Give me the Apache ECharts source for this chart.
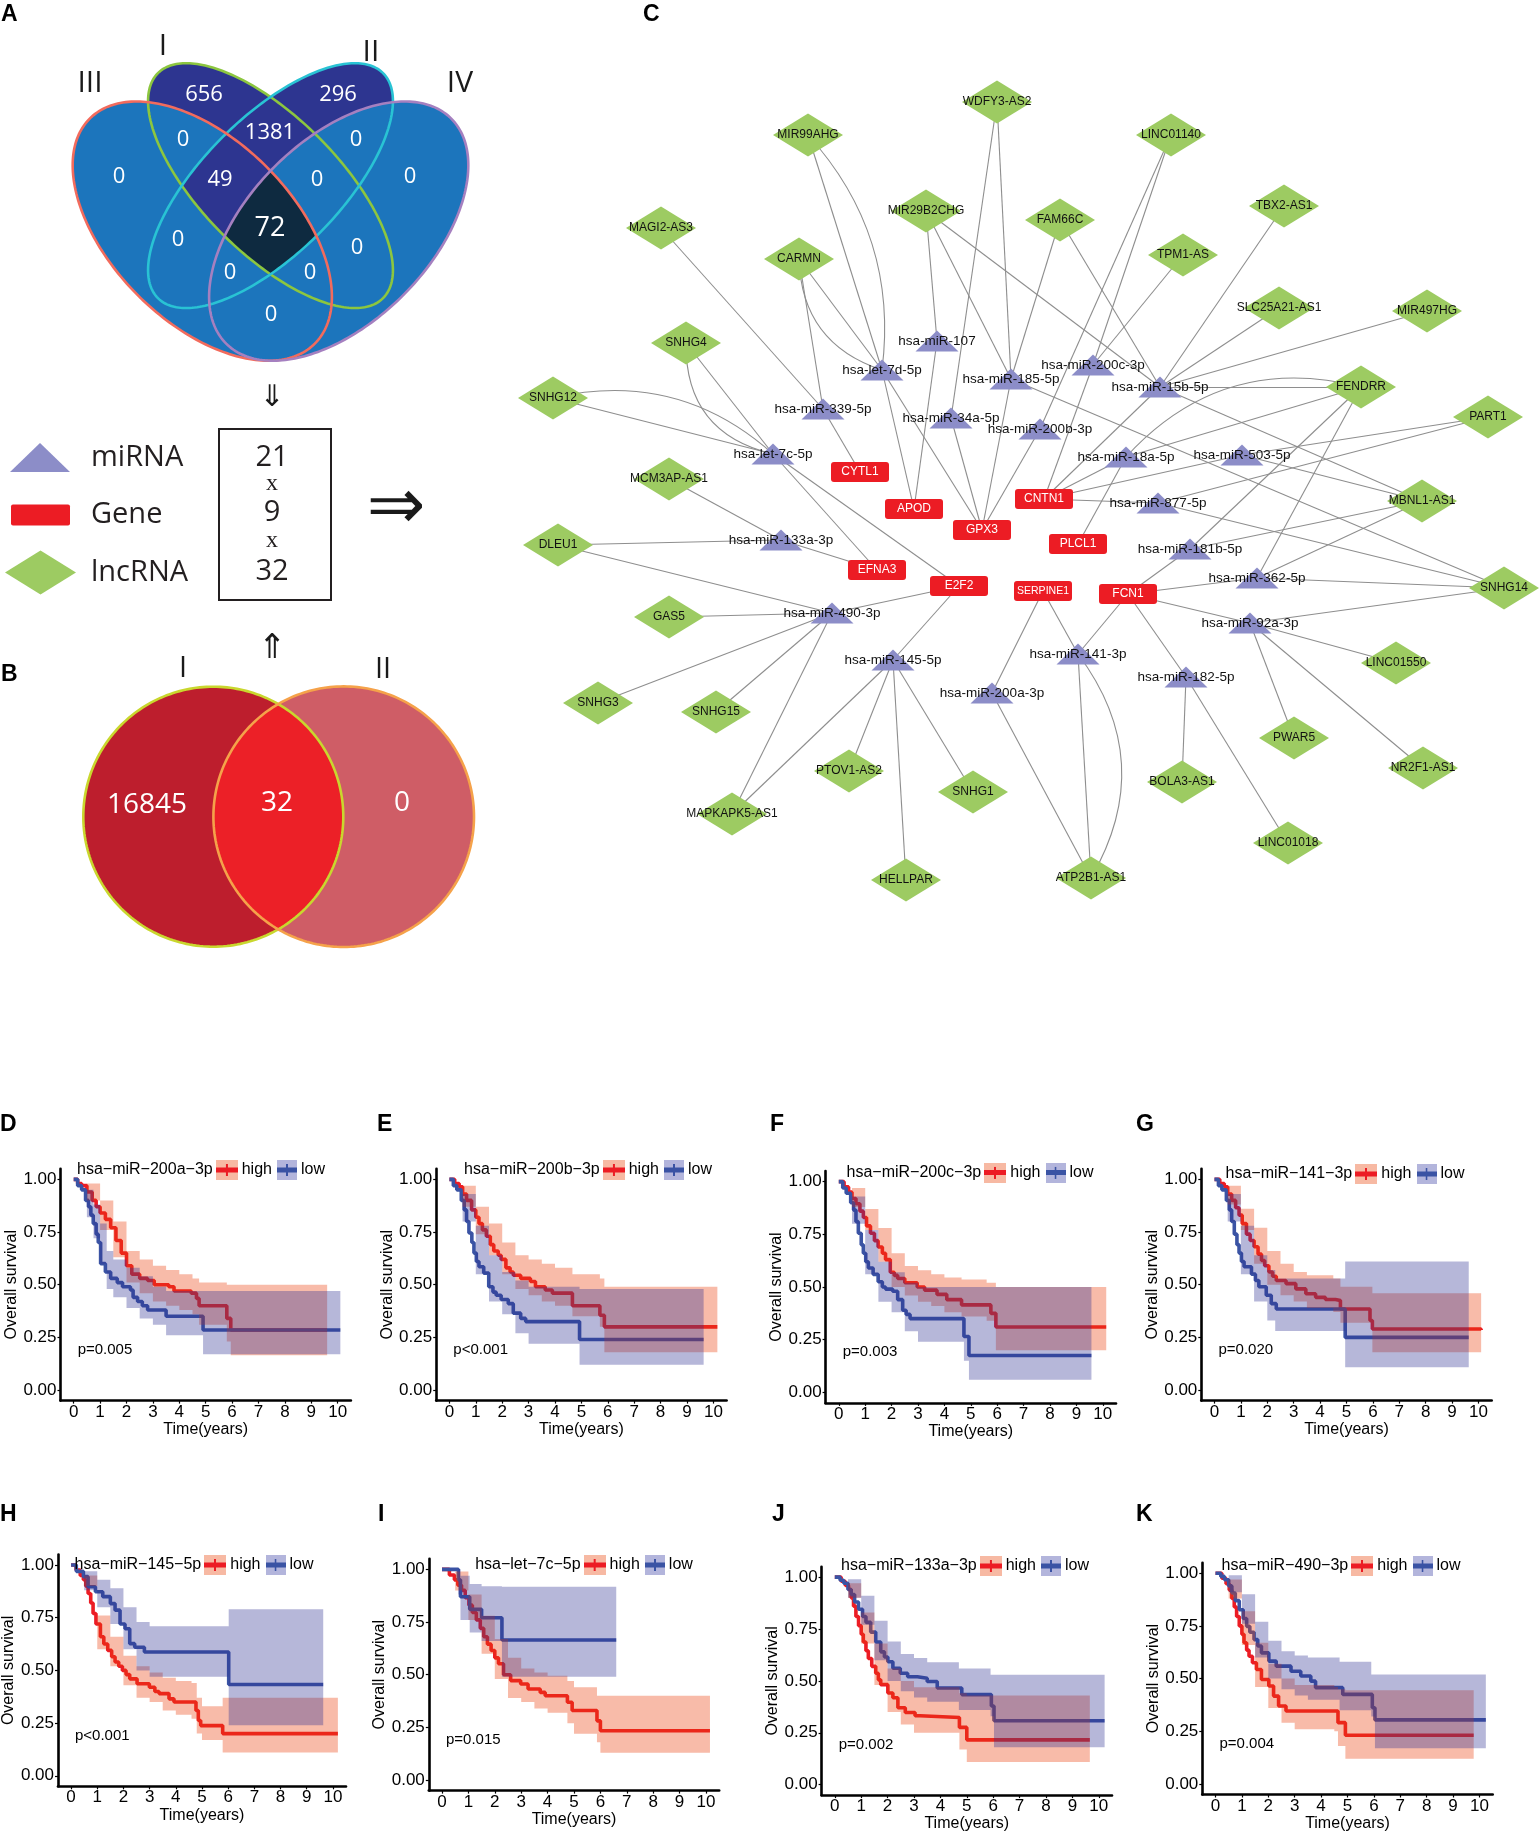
<!DOCTYPE html>
<html>
<head>
<meta charset="utf-8">
<title>ceRNA network and survival figure</title>
<script src="https://cdn.jsdelivr.net/npm/echarts/dist/echarts.min.js"></script>
<style>
html,body{margin:0;padding:0;background:#ffffff;}
#chart{width:1540px;height:1833px;}
</style>
</head>
<body>
<div id="chart"></div>
<script>
// ======================= DATA =======================
const vennASetLabels = ['I', 'II', 'III', 'IV'];
const vennARegions = ['I', 'II', 'I∩II', 'III', 'IV', 'I∩III', 'II∩IV', 'I∩II∩III', 'I∩II∩IV', 'I∩II∩III∩IV', 'II∩III', 'I∩IV', 'II∩III∩IV', 'I∩III∩IV', 'III∩IV'];
const vennACounts = [656, 296, 1381, 0, 0, 0, 0, 49, 0, 72, 0, 0, 0, 0, 0];
const vennBSetLabels = ['I', 'II'];
const vennBRegions = ['I', 'I∩II', 'II'];
const vennBCounts = [16845, 32, 0];
const candidateCounts = [21, 9, 32];
const nodeTypes = ['miRNA', 'Gene', 'lncRNA'];
const miRNAs = ['hsa-let-7d-5p', 'hsa-miR-107', 'hsa-miR-185-5p', 'hsa-miR-200c-3p', 'hsa-miR-15b-5p', 'hsa-miR-339-5p', 'hsa-miR-34a-5p', 'hsa-miR-200b-3p', 'hsa-let-7c-5p', 'hsa-miR-18a-5p', 'hsa-miR-503-5p', 'hsa-miR-877-5p', 'hsa-miR-133a-3p', 'hsa-miR-181b-5p', 'hsa-miR-362-5p', 'hsa-miR-490-3p', 'hsa-miR-92a-3p', 'hsa-miR-145-5p', 'hsa-miR-141-3p', 'hsa-miR-200a-3p', 'hsa-miR-182-5p'];
const genes = ['CYTL1', 'APOD', 'GPX3', 'CNTN1', 'PLCL1', 'EFNA3', 'E2F2', 'SERPINE1', 'FCN1'];
const lncRNAs = ['WDFY3-AS2', 'MIR99AHG', 'LINC01140', 'MIR29B2CHG', 'FAM66C', 'TBX2-AS1', 'MAGI2-AS3', 'CARMN', 'TPM1-AS', 'SLC25A21-AS1', 'MIR497HG', 'SNHG4', 'FENDRR', 'SNHG12', 'PART1', 'MCM3AP-AS1', 'MBNL1-AS1', 'DLEU1', 'SNHG14', 'GAS5', 'LINC01550', 'SNHG3', 'SNHG15', 'PWAR5', 'NR2F1-AS1', 'PTOV1-AS2', 'SNHG1', 'BOLA3-AS1', 'MAPKAPK5-AS1', 'LINC01018', 'HELLPAR', 'ATP2B1-AS1'];
const interactions = [
  ['WDFY3-AS2', 'hsa-miR-34a-5p'], ['WDFY3-AS2', 'hsa-miR-185-5p'],
  ['MIR99AHG', 'hsa-let-7d-5p'], ['MIR99AHG', 'hsa-let-7d-5p'],
  ['CARMN', 'hsa-let-7d-5p'], ['CARMN', 'hsa-let-7d-5p'], ['CARMN', 'hsa-miR-339-5p'],
  ['MAGI2-AS3', 'hsa-miR-339-5p'],
  ['MIR29B2CHG', 'hsa-miR-107'], ['MIR29B2CHG', 'hsa-miR-185-5p'], ['MIR29B2CHG', 'hsa-miR-15b-5p'],
  ['SNHG4', 'hsa-let-7c-5p'], ['SNHG4', 'hsa-let-7c-5p'],
  ['SNHG12', 'hsa-let-7c-5p'], ['SNHG12', 'hsa-let-7c-5p'],
  ['FAM66C', 'hsa-miR-185-5p'], ['FAM66C', 'hsa-miR-15b-5p'],
  ['LINC01140', 'hsa-miR-200c-3p'], ['LINC01140', 'hsa-miR-200b-3p'],
  ['TPM1-AS', 'hsa-miR-200c-3p'],
  ['TBX2-AS1', 'hsa-miR-15b-5p'], ['SLC25A21-AS1', 'hsa-miR-15b-5p'], ['MIR497HG', 'hsa-miR-15b-5p'],
  ['FENDRR', 'hsa-miR-15b-5p'], ['FENDRR', 'hsa-miR-18a-5p'], ['FENDRR', 'hsa-miR-18a-5p'],
  ['FENDRR', 'hsa-miR-181b-5p'], ['FENDRR', 'hsa-miR-362-5p'],
  ['PART1', 'hsa-miR-503-5p'], ['PART1', 'hsa-miR-877-5p'],
  ['MBNL1-AS1', 'hsa-miR-15b-5p'], ['MBNL1-AS1', 'hsa-miR-503-5p'], ['MBNL1-AS1', 'hsa-miR-181b-5p'], ['MBNL1-AS1', 'hsa-miR-362-5p'],
  ['SNHG14', 'hsa-miR-185-5p'], ['SNHG14', 'hsa-miR-877-5p'], ['SNHG14', 'hsa-miR-362-5p'], ['SNHG14', 'hsa-miR-92a-3p'],
  ['MCM3AP-AS1', 'hsa-miR-133a-3p'], ['DLEU1', 'hsa-miR-133a-3p'], ['DLEU1', 'hsa-miR-490-3p'],
  ['GAS5', 'hsa-miR-490-3p'], ['SNHG3', 'hsa-miR-490-3p'], ['SNHG15', 'hsa-miR-490-3p'],
  ['MAPKAPK5-AS1', 'hsa-miR-490-3p'], ['MAPKAPK5-AS1', 'hsa-miR-145-5p'],
  ['PTOV1-AS2', 'hsa-miR-145-5p'], ['HELLPAR', 'hsa-miR-145-5p'], ['SNHG1', 'hsa-miR-145-5p'],
  ['LINC01550', 'hsa-miR-92a-3p'], ['PWAR5', 'hsa-miR-92a-3p'], ['NR2F1-AS1', 'hsa-miR-92a-3p'],
  ['BOLA3-AS1', 'hsa-miR-182-5p'], ['LINC01018', 'hsa-miR-182-5p'],
  ['ATP2B1-AS1', 'hsa-miR-141-3p'], ['ATP2B1-AS1', 'hsa-miR-141-3p'], ['ATP2B1-AS1', 'hsa-miR-200a-3p'],
  ['hsa-miR-339-5p', 'CYTL1'], ['hsa-let-7d-5p', 'APOD'], ['hsa-miR-107', 'APOD'],
  ['hsa-let-7d-5p', 'GPX3'], ['hsa-miR-34a-5p', 'GPX3'], ['hsa-miR-185-5p', 'GPX3'], ['hsa-miR-200b-3p', 'GPX3'],
  ['hsa-miR-200c-3p', 'CNTN1'], ['hsa-miR-15b-5p', 'CNTN1'], ['hsa-miR-18a-5p', 'CNTN1'], ['hsa-miR-877-5p', 'CNTN1'], ['hsa-miR-503-5p', 'CNTN1'],
  ['hsa-miR-18a-5p', 'PLCL1'],
  ['hsa-let-7c-5p', 'EFNA3'], ['hsa-miR-133a-3p', 'EFNA3'],
  ['hsa-let-7c-5p', 'E2F2'], ['hsa-miR-490-3p', 'E2F2'], ['hsa-miR-145-5p', 'E2F2'],
  ['hsa-miR-141-3p', 'SERPINE1'], ['hsa-miR-200a-3p', 'SERPINE1'],
  ['hsa-miR-181b-5p', 'FCN1'], ['hsa-miR-362-5p', 'FCN1'], ['hsa-miR-92a-3p', 'FCN1'], ['hsa-miR-141-3p', 'FCN1'], ['hsa-miR-182-5p', 'FCN1']
];
const kmPanelLetters = ['D', 'E', 'F', 'G', 'H', 'I', 'J', 'K'];
const kmMiRNAs = ['hsa\u2212miR\u2212200a\u22123p', 'hsa\u2212miR\u2212200b\u22123p', 'hsa\u2212miR\u2212200c\u22123p', 'hsa\u2212miR\u2212141\u22123p', 'hsa\u2212miR\u2212145\u22125p', 'hsa\u2212let\u22127c\u22125p', 'hsa\u2212miR\u2212133a\u22123p', 'hsa\u2212miR\u2212490\u22123p'];
const kmGroups = ['high', 'low'];
const kmPValues = ['p=0.005', 'p<0.001', 'p=0.003', 'p=0.020', 'p<0.001', 'p=0.015', 'p=0.002', 'p=0.004'];
const timeTicks = [0, 1, 2, 3, 4, 5, 6, 7, 8, 9, 10];
const survTicks = [0, 0.25, 0.5, 0.75, 1];

const D_high = [[0,1],[0.15,0.98],[0.3,0.97],[0.5,0.94],[0.7,0.9],[0.85,0.87],[1.0,0.84],[1.2,0.81],[1.4,0.77],[1.6,0.71],[1.8,0.65],[2.0,0.59],[2.2,0.55],[2.5,0.53],[2.8,0.52],[3.05,0.5],[3.6,0.49],[3.8,0.47],[4.45,0.46],[4.65,0.435],[4.75,0.4],[5.7,0.4],[5.8,0.34],[5.95,0.285],[9.6,0.285]];
const D_low = [[0,1],[0.15,0.97],[0.3,0.95],[0.45,0.9],[0.56,0.87],[0.65,0.83],[0.74,0.79],[0.85,0.74],[0.93,0.7],[1.02,0.6],[1.2,0.56],[1.4,0.53],[1.65,0.51],[1.85,0.49],[2.15,0.475],[2.25,0.44],[2.42,0.42],[2.6,0.4],[2.8,0.38],[3.5,0.35],[4.9,0.285],[10.1,0.285]];
const D_highCI = [[0,1,1],[0.5,0.9,0.98],[1.0,0.76,0.9],[1.5,0.63,0.8],[2.0,0.51,0.66],[2.5,0.46,0.62],[3.0,0.42,0.59],[3.5,0.4,0.57],[4.0,0.38,0.55],[4.5,0.36,0.53],[4.75,0.31,0.51],[5.8,0.23,0.5],[5.95,0.165,0.5],[9.6,0.165,0.5]];
const D_lowCI = [[0,1,1],[0.5,0.82,0.95],[0.75,0.72,0.88],[1.0,0.6,0.79],[1.25,0.48,0.66],[1.5,0.44,0.62],[2.0,0.39,0.58],[2.5,0.34,0.54],[3.0,0.31,0.49],[3.5,0.26,0.47],[4.9,0.17,0.47],[10.1,0.17,0.47]];

const E_high = [[0,1],[0.2,0.98],[0.37,0.965],[0.5,0.93],[0.65,0.9],[0.84,0.855],[1.0,0.82],[1.12,0.79],[1.25,0.76],[1.4,0.73],[1.55,0.69],[1.68,0.66],[1.85,0.64],[1.96,0.62],[2.14,0.58],[2.3,0.56],[2.42,0.545],[2.7,0.53],[3.07,0.515],[3.26,0.49],[3.63,0.475],[3.9,0.46],[4.66,0.4],[5.7,0.355],[5.87,0.3],[10.15,0.3]];
const E_low = [[0,1],[0.15,0.97],[0.28,0.95],[0.45,0.9],[0.56,0.855],[0.65,0.8],[0.74,0.745],[0.85,0.7],[0.93,0.65],[1.02,0.61],[1.12,0.585],[1.3,0.555],[1.49,0.49],[1.65,0.465],[1.77,0.45],[1.96,0.43],[2.23,0.41],[2.42,0.365],[2.7,0.34],[2.89,0.325],[4.93,0.24],[9.63,0.24]];
const E_highCI = [[0,1,1],[0.5,0.87,0.97],[1.0,0.74,0.87],[1.5,0.64,0.79],[2.0,0.55,0.7],[2.5,0.48,0.64],[3.0,0.45,0.62],[3.5,0.42,0.6],[4.0,0.4,0.58],[4.66,0.35,0.55],[5.7,0.3,0.53],[5.87,0.18,0.49],[10.15,0.18,0.49]];
const E_lowCI = [[0,1,1],[0.5,0.8,0.93],[1.0,0.55,0.78],[1.5,0.42,0.64],[2.0,0.36,0.56],[2.5,0.27,0.52],[3.0,0.22,0.49],[4.93,0.12,0.48],[9.63,0.12,0.48]];

const F_high = [[0,1],[0.2,0.975],[0.37,0.95],[0.5,0.92],[0.65,0.895],[0.8,0.86],[0.93,0.83],[1.05,0.79],[1.2,0.755],[1.35,0.72],[1.49,0.69],[1.65,0.66],[1.77,0.63],[1.95,0.57],[2.1,0.555],[2.23,0.54],[2.5,0.52],[2.97,0.5],[3.25,0.485],[3.72,0.465],[4.09,0.44],[4.65,0.415],[5.76,0.375],[5.95,0.31],[10.13,0.31]];
const F_low = [[0,1],[0.15,0.97],[0.28,0.945],[0.45,0.9],[0.56,0.865],[0.65,0.81],[0.74,0.755],[0.85,0.7],[0.93,0.66],[1.02,0.62],[1.12,0.59],[1.3,0.56],[1.49,0.525],[1.65,0.5],[1.77,0.49],[2.04,0.48],[2.23,0.44],[2.42,0.39],[2.55,0.37],[2.7,0.35],[4.74,0.265],[4.93,0.175],[9.57,0.175]];
const F_highCI = [[0,1,1],[0.5,0.88,0.97],[1.0,0.77,0.87],[1.5,0.62,0.78],[2.0,0.5,0.66],[2.5,0.46,0.6],[3.0,0.43,0.58],[3.5,0.41,0.56],[4.0,0.38,0.545],[4.65,0.36,0.535],[5.6,0.34,0.52],[5.95,0.2,0.5],[10.13,0.2,0.5]];
const F_lowCI = [[0,1,1],[0.5,0.8,0.93],[1.0,0.56,0.77],[1.5,0.43,0.62],[2.0,0.38,0.57],[2.5,0.29,0.52],[3.0,0.24,0.5],[4.74,0.15,0.5],[4.93,0.06,0.5],[9.57,0.06,0.5]];

const G_high = [[0,1],[0.2,0.98],[0.37,0.965],[0.5,0.93],[0.65,0.9],[0.8,0.865],[0.93,0.83],[1.05,0.79],[1.21,0.74],[1.35,0.71],[1.5,0.68],[1.65,0.645],[1.78,0.615],[1.9,0.59],[2.06,0.56],[2.2,0.54],[2.34,0.52],[2.71,0.505],[3.08,0.48],[3.46,0.457],[3.83,0.44],[4.2,0.43],[4.58,0.425],[4.77,0.385],[5.89,0.33],[5.98,0.29],[10.1,0.285]];
const G_low = [[0,1],[0.15,0.97],[0.28,0.95],[0.45,0.9],[0.56,0.855],[0.65,0.8],[0.75,0.74],[0.85,0.69],[0.93,0.65],[1.02,0.61],[1.12,0.585],[1.4,0.55],[1.55,0.52],[1.68,0.49],[1.96,0.45],[2.15,0.41],[2.34,0.385],[4.95,0.25],[9.63,0.25]];
const G_highCI = [[0,1,1],[0.5,0.88,0.97],[1.0,0.76,0.86],[1.5,0.6,0.77],[2.0,0.5,0.66],[2.5,0.45,0.6],[3.0,0.42,0.56],[3.5,0.39,0.545],[4.5,0.37,0.53],[4.77,0.32,0.49],[5.98,0.18,0.46],[10.1,0.18,0.46]];
const G_lowCI = [[0,1,1],[0.5,0.8,0.93],[1.0,0.55,0.78],[1.5,0.42,0.64],[2.0,0.33,0.57],[2.3,0.28,0.53],[4.95,0.108,0.61],[9.63,0.108,0.61]];

const H_high = [[0,1],[0.19,0.976],[0.35,0.95],[0.47,0.93],[0.56,0.9],[0.65,0.865],[0.75,0.82],[0.84,0.77],[0.95,0.72],[1.12,0.66],[1.25,0.625],[1.4,0.595],[1.55,0.565],[1.68,0.54],[1.82,0.52],[1.96,0.5],[2.1,0.48],[2.24,0.46],[2.52,0.437],[2.99,0.42],[3.2,0.4],[3.36,0.39],[3.74,0.365],[3.93,0.35],[4.77,0.31],[4.86,0.262],[4.95,0.238],[5.79,0.2],[10.19,0.2]];
const H_low = [[0,1],[0.2,0.97],[0.47,0.945],[0.65,0.897],[0.93,0.873],[1.21,0.85],[1.5,0.817],[1.68,0.786],[1.87,0.72],[2.06,0.698],[2.24,0.627],[2.43,0.61],[2.8,0.587],[6.02,0.433],[9.63,0.433]];
const H_highCI = [[0,1,1],[0.5,0.9,0.95],[1.0,0.6,0.76],[1.5,0.52,0.66],[2.0,0.43,0.57],[2.5,0.37,0.52],[3.0,0.35,0.49],[3.5,0.31,0.465],[4.0,0.29,0.45],[4.6,0.27,0.44],[4.8,0.2,0.37],[5.0,0.17,0.33],[5.79,0.11,0.37],[10.19,0.11,0.37]];
const H_lowCI = [[0,1,1],[0.5,0.88,0.97],[1.0,0.8,0.93],[1.5,0.72,0.89],[2.0,0.6,0.8],[2.5,0.5,0.73],[3.0,0.47,0.71],[6.02,0.24,0.79],[9.63,0.24,0.79]];

const I_high = [[0,1],[0.28,0.973],[0.47,0.95],[0.6,0.925],[0.74,0.9],[0.88,0.865],[1.02,0.83],[1.15,0.795],[1.3,0.76],[1.45,0.72],[1.58,0.68],[1.72,0.645],[1.86,0.615],[2.0,0.58],[2.14,0.552],[2.33,0.5],[2.6,0.472],[2.98,0.456],[3.26,0.432],[3.72,0.416],[3.91,0.4],[4.75,0.369],[4.93,0.33],[5.87,0.281],[6.0,0.234],[10.15,0.234]];
const I_low = [[0,1],[0.62,0.95],[0.7,0.87],[1.05,0.81],[1.5,0.77],[2.27,0.665],[6.6,0.665]];
const I_highCI = [[0,1,1],[0.5,0.9,0.99],[1.0,0.76,0.88],[1.5,0.6,0.78],[2.0,0.48,0.67],[2.5,0.39,0.58],[3.0,0.37,0.53],[3.5,0.34,0.51],[4.0,0.32,0.495],[4.75,0.27,0.47],[5.0,0.22,0.44],[5.87,0.18,0.4],[6.0,0.13,0.4],[10.15,0.13,0.4]];
const I_lowCI = [[0,1,1],[0.62,0.88,1.0],[0.7,0.76,0.97],[1.05,0.7,0.93],[1.5,0.66,0.92],[2.27,0.49,0.917],[6.6,0.49,0.917]];

const J_high = [[0,1],[0.24,0.98],[0.4,0.96],[0.52,0.94],[0.62,0.9],[0.71,0.86],[0.8,0.81],[0.9,0.766],[1.0,0.725],[1.08,0.687],[1.18,0.645],[1.27,0.608],[1.4,0.57],[1.55,0.537],[1.65,0.505],[1.74,0.482],[2.01,0.442],[2.2,0.419],[2.39,0.371],[2.67,0.348],[3.04,0.332],[3.23,0.324],[4.72,0.276],[5.0,0.216],[9.66,0.216]];
const J_low = [[0,1],[0.2,0.985],[0.34,0.97],[0.5,0.94],[0.62,0.916],[0.75,0.88],[0.9,0.845],[1.05,0.81],[1.18,0.782],[1.36,0.735],[1.55,0.687],[1.74,0.64],[1.88,0.615],[2.01,0.592],[2.2,0.561],[2.48,0.537],[2.76,0.52],[3.13,0.513],[3.5,0.497],[3.88,0.466],[4.81,0.434],[5.93,0.379],[6.03,0.308],[10.22,0.308]];
const J_highCI = [[0,1,1],[0.5,0.9,0.97],[1.0,0.68,0.83],[1.5,0.48,0.68],[2.0,0.35,0.56],[2.5,0.29,0.5],[3.0,0.25,0.47],[4.72,0.17,0.44],[5.0,0.11,0.43],[9.66,0.11,0.43]];
const J_lowCI = [[0,1,1],[0.5,0.9,0.99],[1.0,0.77,0.91],[1.5,0.6,0.79],[2.0,0.5,0.69],[2.5,0.45,0.63],[3.0,0.42,0.61],[3.5,0.4,0.59],[4.7,0.36,0.56],[5.9,0.33,0.53],[6.03,0.18,0.53],[10.22,0.18,0.53]];

const K_high = [[0,1],[0.24,0.976],[0.4,0.95],[0.52,0.92],[0.62,0.88],[0.71,0.84],[0.8,0.795],[0.9,0.75],[1.0,0.71],[1.08,0.67],[1.18,0.635],[1.27,0.606],[1.4,0.575],[1.55,0.543],[1.74,0.496],[2.02,0.465],[2.2,0.417],[2.39,0.37],[2.67,0.346],[4.64,0.291],[4.92,0.231],[9.78,0.231]];
const K_low = [[0,1],[0.2,0.985],[0.34,0.969],[0.5,0.94],[0.62,0.906],[0.75,0.87],[0.9,0.827],[1.05,0.785],[1.18,0.748],[1.3,0.72],[1.46,0.685],[1.6,0.655],[1.74,0.622],[2.02,0.583],[2.3,0.559],[2.86,0.535],[3.23,0.512],[3.61,0.488],[3.79,0.457],[4.82,0.425],[5.94,0.362],[6.04,0.304],[10.24,0.304]];
const K_highCI = [[0,1,1],[0.5,0.88,0.97],[1.0,0.66,0.82],[1.5,0.46,0.67],[2.0,0.36,0.57],[2.5,0.29,0.5],[3.0,0.26,0.47],[4.5,0.25,0.46],[4.64,0.18,0.45],[4.92,0.12,0.445],[9.78,0.12,0.445]];
const K_lowCI = [[0,1,1],[0.5,0.91,0.99],[1.0,0.76,0.9],[1.5,0.6,0.77],[2.0,0.5,0.68],[2.5,0.45,0.63],[3.0,0.42,0.61],[3.5,0.4,0.6],[4.7,0.35,0.58],[5.9,0.32,0.52],[6.04,0.17,0.52],[10.24,0.17,0.52]];

// ======================= LAYOUT & STYLE =======================
const W = 1540, H = 1833;
const FONT = 'Liberation Sans';
const MYRIAD = 'Open Sans';

const vennAGeom = {
  I:   {cx: 0.50, cy: 0.57, a: 0.35, b: 0.15, rot: 135},
  II:  {cx: 0.50, cy: 0.57, a: 0.35, b: 0.15, rot: 45},
  III: {cx: 0.35, cy: 0.47, a: 0.35, b: 0.20, rot: 135},
  IV:  {cx: 0.65, cy: 0.47, a: 0.35, b: 0.20, rot: 45}
};
const vennAFrame = {x0: 72.7, u0: 0.065, y0: 360.7, v0: 0.185, s: 454.7};
const vennAStroke = {I: '#8cc63f', II: '#29c3d4', III: '#f26b5d', IV: '#a580c0'};
const vennAFill = {base: '#1c75bc', navy: '#2d3590', dark: '#0e2a40'};
const vennALabelPos = [[204,95],[338,95],[270,133],[119,177],[410,177],[183,140],[356,140],[220,180],[317,180],[270,228],[178,240],[357,248],[230,273],[310,273],[271,315]];
const vennASetLabelPos = {I: [163,46], II: [371,52], III: [90,83], IV: [460,83]};

const vennBGeom = {I: {cx: 213.3, cy: 816.7, r: 130}, II: {cx: 343.7, cy: 816.7, r: 130.3}};
const vennBFill = {I: '#bd1e2d', II: '#cf5d66', both: '#ec2027'};
const vennBStroke = {I: '#c9d72e', II: '#f5a24a'};
const vennBLabelPos = [[147,805],[277,803],[402,803]];
const vennBSetLabelPos = {I: [183,669], II: [383,670]};

const nodePos = {
  'WDFY3-AS2':[997,102], 'MIR99AHG':[808,135], 'LINC01140':[1171,135], 'MIR29B2CHG':[926,211], 'FAM66C':[1060,220],
  'TBX2-AS1':[1284,206], 'MAGI2-AS3':[661,228], 'CARMN':[799,259], 'TPM1-AS':[1183,255], 'SLC25A21-AS1':[1279,308],
  'MIR497HG':[1427,311], 'SNHG4':[686,343], 'FENDRR':[1361,387], 'SNHG12':[553,398], 'PART1':[1488,417],
  'MCM3AP-AS1':[669,479], 'MBNL1-AS1':[1422,501], 'DLEU1':[558,545], 'SNHG14':[1504,588], 'GAS5':[669,617],
  'LINC01550':[1396,663], 'SNHG3':[598,703], 'SNHG15':[716,712], 'PWAR5':[1294,738], 'NR2F1-AS1':[1423,768],
  'PTOV1-AS2':[849,771], 'SNHG1':[973,792], 'BOLA3-AS1':[1182,782], 'MAPKAPK5-AS1':[732,814], 'LINC01018':[1288,843],
  'HELLPAR':[906,880], 'ATP2B1-AS1':[1091,878],
  'hsa-let-7d-5p':[882,370], 'hsa-miR-107':[937,341], 'hsa-miR-185-5p':[1011,379], 'hsa-miR-200c-3p':[1093,365],
  'hsa-miR-15b-5p':[1160,387], 'hsa-miR-339-5p':[823,409], 'hsa-miR-34a-5p':[951,418], 'hsa-miR-200b-3p':[1040,429],
  'hsa-let-7c-5p':[773,454], 'hsa-miR-18a-5p':[1126,457], 'hsa-miR-503-5p':[1242,455], 'hsa-miR-877-5p':[1158,503],
  'hsa-miR-133a-3p':[781,540], 'hsa-miR-181b-5p':[1190,549], 'hsa-miR-362-5p':[1257,578], 'hsa-miR-490-3p':[832,613],
  'hsa-miR-92a-3p':[1250,623], 'hsa-miR-145-5p':[893,660], 'hsa-miR-141-3p':[1078,654], 'hsa-miR-200a-3p':[992,693],
  'hsa-miR-182-5p':[1186,677],
  'CYTL1':[860,472], 'APOD':[914,509], 'GPX3':[982,530], 'CNTN1':[1044,499], 'PLCL1':[1078,544],
  'EFNA3':[877,570], 'E2F2':[959,586], 'SERPINE1':[1043,591], 'FCN1':[1128,594]
};
const nodeLabelSize = {'SERPINE1': 10.5};
const parallelEdgeBend = {
  'MIR99AHG|hsa-let-7d-5p': 0.23, 'CARMN|hsa-let-7d-5p': -0.35, 'SNHG4|hsa-let-7c-5p': -0.4,
  'SNHG12|hsa-let-7c-5p': 0.26, 'FENDRR|hsa-miR-18a-5p': -0.3, 'ATP2B1-AS1|hsa-miR-141-3p': -0.33
};
const geneSymbol = 'path://M3,0 L55,0 Q58,0 58,3 L58,17 Q58,20 55,20 L3,20 Q0,20 0,17 L0,3 Q0,0 3,0 Z';
const legendIconPaths = [
  'path://M0,0 M81,44 M5,36.5 L35,7.5 L65,36.5 Z',
  'path://M0,0 M81,44 M8,11.5 L63,11.5 Q65,11.5 65,13.5 L65,30.5 Q65,32.5 63,32.5 L8,32.5 Q6,32.5 6,30.5 L6,13.5 Q6,11.5 8,11.5 Z',
  'path://M0,0 M81,44 M0,22 L35.5,0 L71,22 L35.5,44 Z'
];
const nodeColors = {miRNA: '#8c8dc8', Gene: '#ec1c24', lncRNA: '#9dcb62'};

const kmLayout = [
  {left: 60.5,  top: 1168.8, titleX: 201,  titleY: 1170,   letter: [0, 1125]},
  {left: 436.2, top: 1168.8, titleX: 588,  titleY: 1170,   letter: [377, 1125]},
  {left: 825.6, top: 1171.1, titleX: 970,  titleY: 1172.7, letter: [770, 1125]},
  {left: 1201.3,top: 1168.8, titleX: 1345, titleY: 1174,   letter: [1136, 1125]},
  {left: 55.6,  top: 1554.5, titleX: 194,  titleY: 1565,   letter: [0, 1515]},
  {left: 428.8, top: 1558.8, titleX: 584,  titleY: 1565,   letter: [378, 1515]},
  {left: 821.6, top: 1566.7, titleX: 965,  titleY: 1566,   letter: [772, 1515]},
  {left: 1202.3,top: 1562.7, titleX: 1341, titleY: 1566,   letter: [1136, 1515]}
];
const kmPlotW = 290.4, kmPlotH = 231.8;
const kmPTextAt = [0.15, 0.19];
const kmColors = {high: '#ec1c24', low: '#3a53a4', highBand: 'rgba(235,60,10,0.35)', lowBand: 'rgba(46,49,146,0.35)',
  highKeyBg: '#f7b9a3', lowKeyBg: '#b3b5dc'};

// ======================= HELPERS =======================
function ellipsePoly(g, frame) {
  const pts = [], th = g.rot * Math.PI / 180, N = 240;
  for (let k = 0; k < N; k++) {
    const p = 2 * Math.PI * k / N;
    const u = g.cx + g.a * Math.cos(p) * Math.cos(th) - g.b * Math.sin(p) * Math.sin(th);
    const v = g.cy + g.a * Math.cos(p) * Math.sin(th) + g.b * Math.sin(p) * Math.cos(th);
    pts.push([frame.x0 + (u - frame.u0) * frame.s, frame.y0 - (v - frame.v0) * frame.s]);
  }
  return pts;
}
function circlePoly(c) {
  const pts = [], N = 240;
  for (let k = 0; k < N; k++) { const p = 2 * Math.PI * k / N; pts.push([c.cx + c.r * Math.cos(p), c.cy + c.r * Math.sin(p)]); }
  return pts;
}
function polyArea(P) { let a = 0; for (let i = 0; i < P.length; i++) { const p = P[i], q = P[(i + 1) % P.length]; a += p[0] * q[1] - q[0] * p[1]; } return a / 2; }
function clipConvex(subject, clip) {
  const s = polyArea(clip) > 0 ? 1 : -1;
  let out = subject.slice();
  for (let i = 0; i < clip.length && out.length; i++) {
    const A = clip[i], B = clip[(i + 1) % clip.length];
    const side = p => s * ((B[0] - A[0]) * (p[1] - A[1]) - (B[1] - A[1]) * (p[0] - A[0]));
    const inp = out; out = [];
    for (let j = 0; j < inp.length; j++) {
      const P = inp[j], Q = inp[(j + 1) % inp.length];
      const dp = side(P), dq = side(Q);
      if (dp >= 0) out.push(P);
      if ((dp >= 0) !== (dq >= 0)) { const t = dp / (dp - dq); out.push([P[0] + t * (Q[0] - P[0]), P[1] + t * (Q[1] - P[1])]); }
    }
  }
  return out;
}
function keyImage(bg, line) {
  const c = document.createElement('canvas'); c.width = 44; c.height = 40;
  const g = c.getContext('2d');
  g.fillStyle = bg; g.fillRect(0, 0, 44, 40);
  g.fillStyle = line; g.fillRect(0, 15, 44, 10); g.fillRect(20, 8, 4, 24);
  return c;
}
const highKey = keyImage(kmColors.highKeyBg, kmColors.high);
const lowKey = keyImage(kmColors.lowKeyBg, kmColors.low);

// ======================= OPTION =======================
const grids = [{left: 0, top: 0, width: W, height: H}];
const xAxes = [{gridIndex: 0, type: 'value', min: 0, max: W, show: false}];
const yAxes = [{gridIndex: 0, type: 'value', min: 0, max: H, inverse: true, show: false}];
const series = [];

series.push({
  type: 'custom', name: 'vennA-fill', xAxisIndex: 0, yAxisIndex: 0, silent: true, z: 1, clip: false,
  data: [[0, 0]],
  renderItem: (params, api) => {
    const E = {};
    vennASetLabels.forEach(k => { E[k] = ellipsePoly(vennAGeom[k], vennAFrame).map(p => api.coord(p)); });
    const i123 = clipConvex(clipConvex(E.I, E.II), E.III);
    const iAll = clipConvex(i123, E.IV);
    const P = (pts, fill) => ({type: 'polygon', shape: {points: pts}, style: {fill: fill, stroke: null}});
    return {type: 'group', children: [
      P(E.I, vennAFill.navy), P(E.II, vennAFill.navy), P(E.III, vennAFill.base), P(E.IV, vennAFill.base),
      P(i123, vennAFill.navy), P(iAll, vennAFill.dark)
    ]};
  }
});
series.push({
  type: 'custom', name: 'vennA-sets', xAxisIndex: 0, yAxisIndex: 0, silent: true, z: 2, clip: false,
  data: vennASetLabels.map((s, i) => [i, 0]),
  renderItem: (params, api) => {
    const key = vennASetLabels[params.dataIndex];
    const pts = ellipsePoly(vennAGeom[key], vennAFrame).map(p => api.coord(p));
    const lp = api.coord(vennASetLabelPos[key]);
    return {type: 'group', children: [
      {type: 'polygon', shape: {points: pts}, style: {fill: null, stroke: vennAStroke[key], lineWidth: 2.6}},
      {type: 'text', x: lp[0], y: lp[1], style: {text: key, fill: '#1a1a1a', fontSize: 30, fontFamily: MYRIAD, align: 'center', verticalAlign: 'middle'}}
    ]};
  }
});
series.push({
  type: 'custom', name: 'vennA-counts', xAxisIndex: 0, yAxisIndex: 0, silent: true, z: 3, clip: false,
  data: vennACounts.map((c, i) => [i, c]),
  renderItem: (params, api) => {
    const i = params.dataIndex, p = api.coord(vennALabelPos[i]);
    const big = vennARegions[i] === 'I∩II∩III∩IV';
    return {type: 'text', x: p[0], y: p[1], style: {text: String(api.value(1)), fill: '#ffffff', fontSize: big ? 27 : 22, fontFamily: MYRIAD, align: 'center', verticalAlign: 'middle'}};
  }
});
series.push({
  type: 'custom', name: 'vennB-fill', xAxisIndex: 0, yAxisIndex: 0, silent: true, z: 1, clip: false,
  data: [[0, 0]],
  renderItem: (params, api) => {
    const a = circlePoly(vennBGeom.I).map(p => api.coord(p));
    const b = circlePoly(vennBGeom.II).map(p => api.coord(p));
    const ab = clipConvex(a, b);
    return {type: 'group', children: [
      {type: 'polygon', shape: {points: a}, style: {fill: vennBFill.I}},
      {type: 'polygon', shape: {points: b}, style: {fill: vennBFill.II}},
      {type: 'polygon', shape: {points: ab}, style: {fill: vennBFill.both}},
      {type: 'polygon', shape: {points: a}, style: {fill: null, stroke: vennBStroke.I, lineWidth: 2.6}},
      {type: 'polygon', shape: {points: b}, style: {fill: null, stroke: vennBStroke.II, lineWidth: 2.6}}
    ]};
  }
});
series.push({
  type: 'custom', name: 'vennB-sets', xAxisIndex: 0, yAxisIndex: 0, silent: true, z: 3, clip: false,
  data: vennBSetLabels.map((s, i) => [i, 0]),
  renderItem: (params, api) => {
    const key = vennBSetLabels[params.dataIndex], p = api.coord(vennBSetLabelPos[key]);
    return {type: 'text', x: p[0], y: p[1], style: {text: key, fill: '#1a1a1a', fontSize: 29, fontFamily: MYRIAD, align: 'center', verticalAlign: 'middle'}};
  }
});
series.push({
  type: 'custom', name: 'vennB-counts', xAxisIndex: 0, yAxisIndex: 0, silent: true, z: 3, clip: false,
  data: vennBCounts.map((c, i) => [i, c]),
  renderItem: (params, api) => {
    const p = api.coord(vennBLabelPos[params.dataIndex]);
    return {type: 'text', x: p[0], y: p[1], style: {text: String(api.value(1)), fill: '#ffffff', fontSize: 28, fontFamily: MYRIAD, align: 'center', verticalAlign: 'middle'}};
  }
});

const typeIndex = {};
miRNAs.forEach(n => typeIndex[n] = 0); genes.forEach(n => typeIndex[n] = 1); lncRNAs.forEach(n => typeIndex[n] = 2);
const nodeOrder = [...lncRNAs, ...miRNAs, ...genes];
const pairSeen = {};
const links = interactions.map(([s, t]) => {
  const k = s + '|' + t; pairSeen[k] = (pairSeen[k] || 0) + 1;
  const l = {source: s, target: t};
  if (pairSeen[k] > 1) l.lineStyle = {curveness: parallelEdgeBend[k] || 0.3};
  return l;
});
series.push({
  type: 'graph', name: 'network', coordinateSystem: 'cartesian2d', xAxisIndex: 0, yAxisIndex: 0,
  layout: 'none', silent: true, z: 4, animation: false,
  data: nodeOrder.map(n => {
    const d = {name: n, value: nodePos[n], category: typeIndex[n]};
    if (nodeLabelSize[n]) d.label = {fontSize: nodeLabelSize[n]};
    return d;
  }),
  links: links,
  categories: [
    {name: 'miRNA', symbol: 'triangle', symbolSize: [43, 21], itemStyle: {color: nodeColors.miRNA}, label: {fontSize: 13.5, color: '#111111'}},
    {name: 'Gene', symbol: geneSymbol, symbolSize: [58, 20], itemStyle: {color: nodeColors.Gene}, label: {fontSize: 12, color: '#ffffff'}},
    {name: 'lncRNA', symbol: 'diamond', symbolSize: [70, 43], itemStyle: {color: nodeColors.lncRNA}, label: {fontSize: 12, color: '#111111'}}
  ],
  label: {show: true, position: 'inside', fontFamily: FONT, formatter: '{b}'},
  lineStyle: {color: '#8e8e8e', width: 1.1, opacity: 1, curveness: 0},
  emphasis: {disabled: true}
});

const kmHigh = [D_high, E_high, F_high, G_high, H_high, I_high, J_high, K_high];
const kmLow = [D_low, E_low, F_low, G_low, H_low, I_low, J_low, K_low];
const kmHighCI = [D_highCI, E_highCI, F_highCI, G_highCI, H_highCI, I_highCI, J_highCI, K_highCI];
const kmLowCI = [D_lowCI, E_lowCI, F_lowCI, G_lowCI, H_lowCI, I_lowCI, J_lowCI, K_lowCI];

function bandSeries(g, band, color, z) {
  return {
    type: 'custom', xAxisIndex: g, yAxisIndex: g, silent: true, z: z, clip: false, animation: false,
    data: band, encode: {x: 0, y: 2},
    renderItem: (params, api) => {
      if (params.dataIndex !== 0) return null;
      const pts = [];
      for (let i = 0; i < band.length; i++) {
        const tn = i + 1 < band.length ? band[i + 1][0] : band[i][0];
        pts.push(api.coord([band[i][0], band[i][2]]), api.coord([tn, band[i][2]]));
      }
      for (let i = band.length - 1; i >= 0; i--) {
        const tn = i + 1 < band.length ? band[i + 1][0] : band[i][0];
        pts.push(api.coord([tn, band[i][1]]), api.coord([band[i][0], band[i][1]]));
      }
      return {type: 'polygon', shape: {points: pts}, style: {fill: color}};
    }
  };
}
const titles = [];
kmPanelLetters.forEach((letter, i) => {
  const g = i + 1, L = kmLayout[i];
  grids.push({left: L.left, top: L.top, width: kmPlotW, height: kmPlotH});
  xAxes.push({
    gridIndex: g, type: 'value', min: -0.5, max: 10.5,
    axisLine: {show: true, onZero: false, lineStyle: {color: '#000', width: 2.6}},
    axisTick: {show: true, length: 3, customValues: timeTicks, lineStyle: {color: '#000', width: 1.2}},
    axisLabel: {show: true, customValues: timeTicks, color: '#000', fontSize: 17, fontFamily: FONT, margin: 3},
    splitLine: {show: false},
    name: 'Time(years)', nameLocation: 'middle', nameGap: 18, nameTextStyle: {fontSize: 16, fontFamily: FONT, color: '#000'}
  });
  yAxes.push({
    gridIndex: g, type: 'value', min: -0.05, max: 1.05,
    axisLine: {show: true, onZero: false, lineStyle: {color: '#000', width: 2.6}},
    axisTick: {show: true, length: 3, customValues: survTicks, lineStyle: {color: '#000', width: 1.2}},
    axisLabel: {show: true, customValues: survTicks, color: '#000', fontSize: 17, fontFamily: FONT, margin: 4, formatter: v => Number(v).toFixed(2)},
    splitLine: {show: false},
    name: 'Overall survival', nameLocation: 'middle', nameGap: 38, nameRotate: 90, nameTextStyle: {fontSize: 16, fontFamily: FONT, color: '#000'}
  });
  series.push({type: 'line', name: kmMiRNAs[i] + ' ' + kmGroups[0], xAxisIndex: g, yAxisIndex: g, data: kmHigh[i], step: 'end', symbol: 'none', showSymbol: false,
    lineStyle: {color: kmColors.high, width: 3.6}, z: 2, silent: true, animation: false});
  series.push({type: 'line', name: kmMiRNAs[i] + ' ' + kmGroups[1], xAxisIndex: g, yAxisIndex: g, data: kmLow[i], step: 'end', symbol: 'none', showSymbol: false,
    lineStyle: {color: kmColors.low, width: 3.6}, z: 2, silent: true, animation: false});
  series.push(bandSeries(g, kmHighCI[i], kmColors.highBand, 3));
  series.push(bandSeries(g, kmLowCI[i], kmColors.lowBand, 4));
  series.push({
    type: 'custom', xAxisIndex: g, yAxisIndex: g, silent: true, z: 5, clip: false,
    data: [kmPTextAt],
    renderItem: (params, api) => {
      const p = api.coord([api.value(0), api.value(1)]);
      return {type: 'text', x: p[0], y: p[1], style: {text: kmPValues[i], fill: '#000', fontSize: 15, fontFamily: FONT, align: 'left', verticalAlign: 'middle'}};
    }
  });
  titles.push({
    text: '{t|' + kmMiRNAs[i] + '}{g1|}{hk|}{g2|}{h|' + kmGroups[0] + '}{g3|}{lk|}{g2|}{h|' + kmGroups[1] + '}',
    left: L.titleX, top: L.titleY - 10, textAlign: 'center', padding: 0,
    textStyle: {fontWeight: 'normal', fontSize: 16, fontFamily: FONT, color: '#000', rich: {
      t: {fontSize: 16, fontWeight: 'normal', fontFamily: FONT, color: '#000', height: 20, lineHeight: 20},
      h: {fontSize: 16, fontWeight: 'normal', fontFamily: FONT, color: '#000', height: 20, lineHeight: 20},
      g1: {width: 3, height: 20}, g2: {width: 4, height: 20}, g3: {width: 5, height: 20},
      hk: {width: 22, height: 20, backgroundColor: {image: highKey}},
      lk: {width: 20, height: 20, backgroundColor: {image: lowKey}}
    }}
  });
});

const letterStyle = t => ({text: t, fill: '#000', fontSize: 23, fontWeight: 'bold', fontFamily: FONT, align: 'left', verticalAlign: 'middle'});
const graphics = [
  {type: 'text', x: 1, y: 15, style: letterStyle('A')},
  {type: 'text', x: 1, y: 675, style: letterStyle('B')},
  {type: 'text', x: 643, y: 15, style: letterStyle('C')},
  {type: 'text', x: 272, y: 398, style: {text: '\u21D3', fill: '#1a1a1a', fontSize: 30, fontFamily: 'DejaVu Sans', align: 'center', verticalAlign: 'middle'}},
  {type: 'text', x: 272, y: 649, style: {text: '\u21D1', fill: '#1a1a1a', fontSize: 34, fontFamily: 'DejaVu Sans', align: 'center', verticalAlign: 'middle'}},
  {type: 'text', x: 396, y: 510, style: {text: '\u21D2', fill: '#1a1a1a', fontSize: 70, fontFamily: 'DejaVu Sans', align: 'center', verticalAlign: 'middle'}},
  {type: 'rect', shape: {x: 219, y: 429, width: 112, height: 171}, style: {fill: null, stroke: '#231f20', lineWidth: 2}},
  {type: 'text', x: 272, y: 458, style: {text: String(candidateCounts[0]), fill: '#231f20', fontSize: 29, fontFamily: MYRIAD, align: 'center', verticalAlign: 'middle'}},
  {type: 'text', x: 272, y: 484, style: {text: 'x', fill: '#231f20', fontSize: 24, fontFamily: 'Liberation Serif', align: 'center', verticalAlign: 'middle'}},
  {type: 'text', x: 272, y: 513, style: {text: String(candidateCounts[1]), fill: '#231f20', fontSize: 29, fontFamily: MYRIAD, align: 'center', verticalAlign: 'middle'}},
  {type: 'text', x: 272, y: 541, style: {text: 'x', fill: '#231f20', fontSize: 24, fontFamily: 'Liberation Serif', align: 'center', verticalAlign: 'middle'}},
  {type: 'text', x: 272, y: 572, style: {text: String(candidateCounts[2]), fill: '#231f20', fontSize: 29, fontFamily: MYRIAD, align: 'center', verticalAlign: 'middle'}}
];
kmPanelLetters.forEach((letter, i) => {
  graphics.push({type: 'text', x: kmLayout[i].letter[0], y: kmLayout[i].letter[1], style: letterStyle(letter)});
});

const option = {
  animation: false,
  backgroundColor: '#ffffff',
  textStyle: {fontFamily: FONT},
  title: titles,
  legend: [{
    data: nodeTypes.map((n, i) => ({name: n, icon: legendIconPaths[i]})),
    orient: 'vertical', left: 5, top: 435.5, itemWidth: 81, itemHeight: 44, itemGap: 13.5,
    selectedMode: false, padding: 0,
    textStyle: {fontSize: 29, fontFamily: MYRIAD, color: '#231f20'}
  }],
  grid: grids, xAxis: xAxes, yAxis: yAxes,
  series: series,
  graphic: graphics
};
const chart = echarts.init(document.getElementById('chart'), null, {renderer: 'canvas', width: W, height: H});
chart.setOption(option);
</script>
</body>
</html>
